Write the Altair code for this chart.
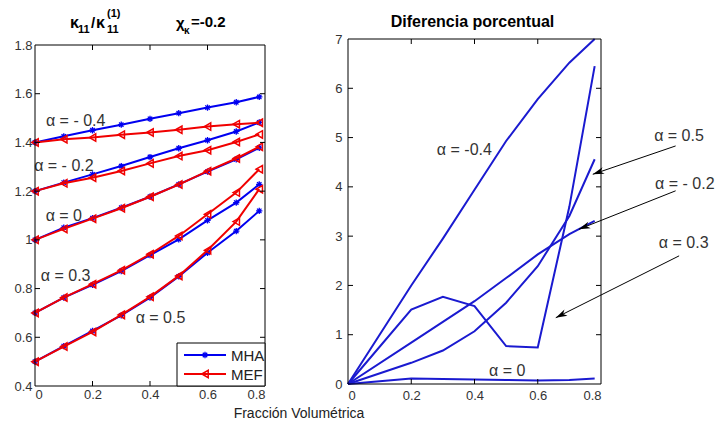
import altair as alt
import numpy as np
import pandas as pd

# ---------------- data ----------------
x_left = [0, 0.1, 0.2, 0.3, 0.4, 0.5, 0.6, 0.7, 0.78]
mha_m04 = [1.400, 1.425, 1.450, 1.473, 1.497, 1.520, 1.543, 1.565, 1.587]
mef_m04 = [1.400, 1.413, 1.420, 1.432, 1.441, 1.452, 1.465, 1.475, 1.481]
mha_m02 = [1.200, 1.235, 1.269, 1.303, 1.340, 1.376, 1.409, 1.445, 1.482]
mef_m02 = [1.200, 1.232, 1.255, 1.283, 1.314, 1.344, 1.368, 1.402, 1.433]
mha_0 = [1.000, 1.050, 1.089, 1.132, 1.177, 1.228, 1.280, 1.331, 1.378]
mef_0 = [1.000, 1.045, 1.087, 1.130, 1.177, 1.227, 1.282, 1.334, 1.382]
mha_03 = [0.700, 0.763, 0.815, 0.872, 0.937, 1.002, 1.080, 1.153, 1.228]
mef_03 = [0.700, 0.763, 0.818, 0.875, 0.941, 1.016, 1.105, 1.194, 1.290]
mha_05 = [0.500, 0.564, 0.626, 0.690, 0.763, 0.850, 0.947, 1.036, 1.119]
mef_05 = [0.500, 0.562, 0.622, 0.692, 0.766, 0.852, 0.957, 1.075, 1.208]

x_right = [0, 0.2, 0.3, 0.4, 0.5, 0.6, 0.7, 0.78]
dif_m04 = [0, 2.00, 2.95, 3.94, 4.93, 5.78, 6.52, 7.00]
dif_m02 = [0, 0.84, 1.26, 1.68, 2.15, 2.63, 3.04, 3.31]
dif_0 = [0, 0.11, 0.10, 0.09, 0.08, 0.07, 0.08, 0.11]
dif_03 = [0, 1.51, 1.77, 1.58, 0.77, 0.74, 3.60, 6.45]
dif_05 = [0, 0.43, 0.68, 1.07, 1.65, 2.39, 3.41, 4.56]

alpha_names = ["-0.4", "-0.2", "0", "0.3", "0.5"]
methods = ["MHA", "MEF"]

xticks_L = [0, 0.2, 0.4, 0.6, 0.8]
yticks_L = [0.4, 0.6, 0.8, 1.0, 1.2, 1.4, 1.6, 1.8]
xticks_R = [0, 0.2, 0.4, 0.6, 0.8]
yticks_R = [0, 1, 2, 3, 4, 5, 6, 7]

# annotation labels (data coordinates)
left_lab_text = ["\u03b1 = - 0.4", "\u03b1 = - 0.2", "\u03b1 = 0", "\u03b1 = 0.3", "\u03b1 = 0.5"]
left_lab_x = [0.038, -0.003, 0.037, 0.020, 0.350]
left_lab_y = [1.488, 1.303, 1.098, 0.852, 0.680]

right_lab_text = ["\u03b1 = -0.4", "\u03b1 =  0", "\u03b1 = 0.5", "\u03b1 = - 0.2", "\u03b1 = 0.3"]
right_lab_x = [0.281, 0.446, 0.968, 0.971, 0.983]
right_lab_y = [4.75, 0.26, 5.03, 4.06, 2.86]

arrow_x0 = [1.036, 1.036, 1.047]
arrow_y0 = [4.83, 3.92, 2.60]
arrow_x1 = [0.774, 0.730, 0.657]
arrow_y1 = [4.255, 3.14, 1.345]

# ---------------- layout / style ----------------
FONT = "Liberation Sans"
BLUE = "#0000f0"
RED = "#f00000"
BLUE_R = "#1a1ad0"
TXT = "#333333"

WL, WR, H = 230, 253, 347
ppu_xL = WL / 0.8
ppu_yL = 341 / 1.4
YTOP_L = 0.4 + H / ppu_yL
ppu_xR = WR / 0.8
ppu_yR = 345 / 7.0
YBOT_R = 7.0 - H / ppu_yR
TICK = 5

xsL = alt.Scale(domain=[0, 0.8], nice=False, zero=False)
ysL = alt.Scale(domain=[0.4, YTOP_L], nice=False, zero=False)
xsR = alt.Scale(domain=[0, 0.8], nice=False, zero=False)
ysR = alt.Scale(domain=[YBOT_R, 7.0], nice=False, zero=False)

axXL = alt.Axis(values=xticks_L, format="~g", labelPadding=2, title=None)
axYL = alt.Axis(values=yticks_L, format="~g", labelPadding=3, title=None)
axXR = alt.Axis(values=xticks_R, format="~g", labelPadding=3, title=None)
axYR = alt.Axis(values=yticks_R, format="~g", labelPadding=6, title=None)

ASTERISK = "M-1,0L1,0M0,-1L0,1M-0.7,-0.7L0.7,0.7M-0.7,0.7L0.7,-0.7"
ARROW = "M0,0L0.3,1L0,0.72L-0.3,1Z"

one = pd.DataFrame({"a": [0]})


def X(f, side):
    return alt.X(f, scale=xsL if side == "L" else xsR, axis=axXL if side == "L" else axXR, title=None)


def Y(f, side):
    return alt.Y(f, scale=ysL if side == "L" else ysR, axis=axYL if side == "L" else axYR, title=None)


# ---------------- left panel ----------------
rows = []
mha_all = [mha_m04, mha_m02, mha_0, mha_03, mha_05]
mef_all = [mef_m04, mef_m02, mef_0, mef_03, mef_05]
for a, ys in zip(alpha_names, mha_all):
    for xv, yv in zip(x_left, ys):
        rows.append({"x": xv, "y": yv, "alpha": a, "method": "MHA"})
for a, ys in zip(alpha_names, mef_all):
    for xv, yv in zip(x_left, ys):
        rows.append({"x": xv, "y": yv, "alpha": a, "method": "MEF"})
dfL = pd.DataFrame(rows)


def frame_layers(side, x0, x1, y0, y1, xt, yt, w, ppu_y):
    fr = alt.Chart(pd.DataFrame({"x": [x0], "x2": [x1], "y": [y0], "y2": [y1]})).mark_rect(
        fill="transparent", stroke="black", strokeWidth=1).encode(
        x=X("x:Q", side), x2="x2:Q", y=Y("y:Q", side), y2="y2:Q")
    ydf = pd.DataFrame({"y": yt})
    xdf = pd.DataFrame({"x": xt, "yb": [y0] * len(xt), "yb2": [y0 + TICK / ppu_y] * len(xt),
                        "yt": [y1] * len(xt), "yt2": [y1 - TICK / ppu_y] * len(xt)})
    lt = alt.Chart(ydf).mark_rule(color="black", strokeWidth=1).encode(
        y=Y("y:Q", side), x=alt.value(0), x2=alt.value(TICK))
    rt = alt.Chart(ydf).mark_rule(color="black", strokeWidth=1).encode(
        y=Y("y:Q", side), x=alt.value(w - TICK), x2=alt.value(w))
    bt = alt.Chart(xdf).mark_rule(color="black", strokeWidth=1).encode(
        x=X("x:Q", side), y=Y("yb:Q", side), y2="yb2:Q")
    tt = alt.Chart(xdf).mark_rule(color="black", strokeWidth=1).encode(
        x=X("x:Q", side), y=Y("yt:Q", side), y2="yt2:Q")
    return [lt, rt, bt, tt, fr]


def ptext(txt, px, py, size, bold=True, align="left", color="black"):
    return alt.Chart(pd.DataFrame({"t": [txt]})).mark_text(
        align=align, baseline="middle", font=FONT, fontSize=size,
        fontWeight="bold" if bold else "normal", color=color).encode(
        x=alt.value(px), y=alt.value(py), text="t:N")


mha_df = dfL[dfL.method == "MHA"]
mef_df = dfL[dfL.method == "MEF"]

L_mha_line = alt.Chart(mha_df).mark_line(color=BLUE, strokeWidth=2).encode(
    x=X("x:Q", "L"), y=Y("y:Q", "L"), detail="alpha:N")
L_mha_pts = alt.Chart(mha_df).mark_point(shape=ASTERISK, size=40, filled=False, color=BLUE,
                                         strokeWidth=1.3, opacity=1).encode(
    x=X("x:Q", "L"), y=Y("y:Q", "L"))
L_mef_line = alt.Chart(mef_df).mark_line(color=RED, strokeWidth=2).encode(
    x=X("x:Q", "L"), y=Y("y:Q", "L"), detail="alpha:N")
L_mef_pts = alt.Chart(mef_df).mark_point(shape="triangle-left", size=55, filled=False, color=RED,
                                         strokeWidth=1.5, opacity=1).encode(
    x=X("x:Q", "L"), y=Y("y:Q", "L"))

L_labels = alt.Chart(pd.DataFrame({"x": left_lab_x, "y": left_lab_y, "t": left_lab_text})).mark_text(
    align="left", baseline="middle", font=FONT, fontSize=16, color=TXT).encode(
    x=X("x:Q", "L"), y=Y("y:Q", "L"), text="t:N")

# legend (manual, like the MATLAB one)
leg = [
    alt.Chart(one).mark_rect(fill="white", stroke="black", strokeWidth=1).encode(
        x=alt.value(142), x2=alt.value(WL), y=alt.value(304), y2=alt.value(H)),
    alt.Chart(one).mark_rule(color=BLUE, strokeWidth=2).encode(
        x=alt.value(149), x2=alt.value(191), y=alt.value(316)),
    alt.Chart(one).mark_point(shape=ASTERISK, size=40, filled=False, color=BLUE,
                              strokeWidth=1.3, opacity=1).encode(x=alt.value(170), y=alt.value(316)),
    alt.Chart(one).mark_rule(color=RED, strokeWidth=2).encode(
        x=alt.value(149), x2=alt.value(191), y=alt.value(335)),
    alt.Chart(one).mark_point(shape="triangle-left", size=55, filled=False, color=RED,
                              strokeWidth=1.5, opacity=1).encode(x=alt.value(170), y=alt.value(335)),
    ptext(methods[0], 196, 317, 15, bold=False, color="#222"),
    ptext(methods[1], 196, 336, 15, bold=False, color="#222"),
]

# title pieces of the left panel
L_title = [
    ptext("\u03ba", 35, -16, 16),
    ptext("11", 43, -9, 11),
    ptext("/", 56, -16, 15),
    ptext("\u03ba", 61, -16, 16),
    ptext("11", 72, -9, 11),
    ptext("(1)", 72, -25, 11),
    ptext("\u03c7", 141, -16, 15),
    ptext("\u03ba", 149, -8, 10),
    ptext("=-0.2", 156, -17, 15),
    ptext("Fracci\u00f3n Volum\u00e9trica", 264, 375, 14, bold=False, align="center", color="#222"),
]

left = alt.layer(
    L_mha_line, L_mha_pts, L_mef_line, L_mef_pts, L_labels,
    *frame_layers("L", 0, 0.8, 0.4, 1.8, [0.2, 0.4, 0.6], yticks_L[1:-1], WL, ppu_yL),
    *leg, *L_title,
).properties(width=WL, height=H)

# ---------------- right panel ----------------
rrows = []
for a, ys in zip(alpha_names, [dif_m04, dif_m02, dif_0, dif_03, dif_05]):
    for xv, yv in zip(x_right, ys):
        rrows.append({"x": xv, "y": yv, "alpha": a})
dfR = pd.DataFrame(rrows)

R_lines = alt.Chart(dfR).mark_line(color=BLUE_R, strokeWidth=2).encode(
    x=X("x:Q", "R"), y=Y("y:Q", "R"), detail="alpha:N")

R_labels = alt.Chart(pd.DataFrame({"x": right_lab_x, "y": right_lab_y, "t": right_lab_text})).mark_text(
    align="left", baseline="middle", font=FONT, fontSize=16, color=TXT).encode(
    x=X("x:Q", "R"), y=Y("y:Q", "R"), text="t:N")

adf = pd.DataFrame({"x": arrow_x0, "y": arrow_y0, "x2": arrow_x1, "y2": arrow_y1})
dxp = (adf.x2 - adf.x) * ppu_xR
dyp = -(adf.y2 - adf.y) * ppu_yR
adf["ang"] = np.mod(np.degrees(np.arctan2(dxp, -dyp)), 360)
R_arrow_lines = alt.Chart(adf).mark_rule(color="black", strokeWidth=1).encode(
    x=X("x:Q", "R"), x2="x2:Q", y=Y("y:Q", "R"), y2="y2:Q")
R_arrow_heads = alt.Chart(adf).mark_point(shape=ARROW, size=520, filled=True, color="black",
                                          opacity=1, strokeWidth=0).encode(
    x=X("x2:Q", "R"), y=Y("y2:Q", "R"),
    angle=alt.Angle("ang:Q", scale=None))

R_title = ptext("Diferencia porcentual", WR / 2 - 2, -17, 16, align="center")

right = alt.layer(
    R_lines, R_labels,
    *frame_layers("R", 0, 0.8, 0, 7, [0.2, 0.4, 0.6], yticks_R[1:-1], WR, ppu_yR),
    R_arrow_lines, R_arrow_heads, R_title,
).properties(width=WR, height=H)

chart = alt.hconcat(left, right, spacing=83, bounds="flush").properties(
    padding={"left": 13, "top": 7, "right": 0, "bottom": 0}
).configure_view(stroke="transparent").configure_axis(
    domain=False, ticks=False, grid=False, tickSize=0,
    labelFont=FONT, labelFontSize=13, labelColor=TXT,
)

chart.save("out.html", embed_options={"renderer": "svg", "actions": False})
